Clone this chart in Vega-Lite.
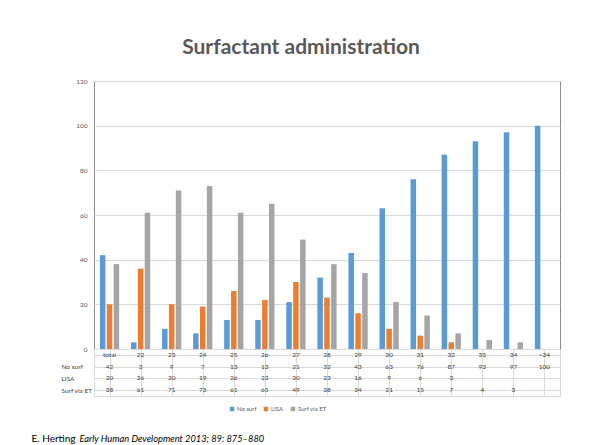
{
  "$schema": "https://vega.github.io/schema/vega-lite/v6.json",
  "padding": {"left": 30, "top": 36, "right": 5, "bottom": 2},
  "background": "white",
  "bounds": "flush",
  "spacing": 0,
  "config": {"font": "Lato", "concat": {"spacing": 0}},
  "datasets": {
    "d": [
      {"cat": "total", "series": "No surf", "value": 42}, {"cat": "total", "series": "LISA", "value": 20}, {"cat": "total", "series": "Surf via ET", "value": 38},
      {"cat": "22", "series": "No surf", "value": 3}, {"cat": "22", "series": "LISA", "value": 36}, {"cat": "22", "series": "Surf via ET", "value": 61},
      {"cat": "23", "series": "No surf", "value": 9}, {"cat": "23", "series": "LISA", "value": 20}, {"cat": "23", "series": "Surf via ET", "value": 71},
      {"cat": "24", "series": "No surf", "value": 7}, {"cat": "24", "series": "LISA", "value": 19}, {"cat": "24", "series": "Surf via ET", "value": 73},
      {"cat": "25", "series": "No surf", "value": 13}, {"cat": "25", "series": "LISA", "value": 26}, {"cat": "25", "series": "Surf via ET", "value": 61},
      {"cat": "26", "series": "No surf", "value": 13}, {"cat": "26", "series": "LISA", "value": 22}, {"cat": "26", "series": "Surf via ET", "value": 65},
      {"cat": "27", "series": "No surf", "value": 21}, {"cat": "27", "series": "LISA", "value": 30}, {"cat": "27", "series": "Surf via ET", "value": 49},
      {"cat": "28", "series": "No surf", "value": 32}, {"cat": "28", "series": "LISA", "value": 23}, {"cat": "28", "series": "Surf via ET", "value": 38},
      {"cat": "29", "series": "No surf", "value": 43}, {"cat": "29", "series": "LISA", "value": 16}, {"cat": "29", "series": "Surf via ET", "value": 34},
      {"cat": "30", "series": "No surf", "value": 63}, {"cat": "30", "series": "LISA", "value": 9}, {"cat": "30", "series": "Surf via ET", "value": 21},
      {"cat": "31", "series": "No surf", "value": 76}, {"cat": "31", "series": "LISA", "value": 6}, {"cat": "31", "series": "Surf via ET", "value": 15},
      {"cat": "32", "series": "No surf", "value": 87}, {"cat": "32", "series": "LISA", "value": 3}, {"cat": "32", "series": "Surf via ET", "value": 7},
      {"cat": "33", "series": "No surf", "value": 93}, {"cat": "33", "series": "LISA", "value": null}, {"cat": "33", "series": "Surf via ET", "value": 4},
      {"cat": "34", "series": "No surf", "value": 97}, {"cat": "34", "series": "LISA", "value": null}, {"cat": "34", "series": "Surf via ET", "value": 3},
      {"cat": ">34", "series": "No surf", "value": 100}, {"cat": ">34", "series": "LISA", "value": null}, {"cat": ">34", "series": "Surf via ET", "value": null}
    ]
  },
  "vconcat": [
    {
      "width": 466,
      "height": 268,
      "view": {"stroke": "#8c8c8c"},
      "title": {"text": "Surfactant administration", "fontSize": 21, "fontWeight": "bold", "color": "#595959", "offset": 20, "dx": -26, "anchor": "middle"},
      "data": {"name": "d"},
      "mark": {"type": "bar"},
      "encoding": {
        "x": {"field": "cat", "type": "nominal", "sort": ["total","22","23","24","25","26","27","28","29","30","31","32","33","34",">34"], "scale": {"paddingInner": 0.38, "paddingOuter": 0.19}, "axis": null},
        "xOffset": {"field": "series", "type": "nominal", "sort": ["No surf","LISA","Surf via ET"], "scale": {"paddingInner": 0.2}},
        "y": {"field": "value", "type": "quantitative", "scale": {"domain": [0, 120]}, "axis": {"values": [0,20,40,60,80,100,120], "grid": true, "gridColor": "#d9d9d9", "domain": false, "ticks": false, "labelFontSize": 6.5, "labelColor": "#595959", "labelPadding": 7, "title": null}},
        "color": {"field": "series", "type": "nominal", "scale": {"domain": ["No surf","LISA","Surf via ET"], "range": ["#5b9bd5","#ed7d31","#a5a5a5"]}, "legend": {"orient": "none", "legendX": 135, "legendY": 325, "direction": "horizontal", "title": null, "symbolType": "square", "symbolSize": 20, "symbolStrokeWidth": 0, "labelFontSize": 6, "labelColor": "#595959", "columnPadding": 6, "labelOffset": 2}}
      }
    },
    {
      "width": 466,
      "height": 47,
      "view": {"stroke": "#d9d9d9"},
      "data": {"name": "d"},
      "encoding": {
        "x": {"field": "cat", "type": "nominal", "sort": ["total","22","23","24","25","26","27","28","29","30","31","32","33","34",">34"], "scale": {"paddingInner": 0, "paddingOuter": 0}, "axis": {"grid": true, "bandPosition": 0, "gridColor": "#d9d9d9", "labels": false, "ticks": false, "domain": false, "title": "Early Human Development 2013; 89: 875–880", "titleFontStyle": "italic", "titleFontWeight": "normal", "titleFontSize": 9.3, "titleX": -15, "titleY": 45, "titleAlign": "left", "titleBaseline": "alphabetic", "titleColor": "#000000"}}
      },
      "layer": [
        {
          "transform": [{"filter": "datum.value != null"}],
          "mark": {"type": "text", "fontSize": 6.5, "color": "#404040"},
          "encoding": {
            "y": {"field": "series", "type": "nominal", "scale": {"domain": ["hdr","No surf","LISA","Surf via ET"], "paddingInner": 0, "paddingOuter": 0}, "axis": {"labelExpr": "datum.value == 'hdr' ? '' : datum.value", "labelAlign": "left", "labelPadding": 33, "ticks": false, "domain": false, "grid": true, "bandPosition": 0, "gridColor": "#d9d9d9", "labelFontSize": 6.5, "labelColor": "#404040", "title": "E. Herting", "titleAngle": 0, "titleX": -63, "titleY": 92, "titleAlign": "left", "titleBaseline": "alphabetic", "titleFontSize": 10, "titleFontWeight": "normal", "titleColor": "#000000"}},
            "text": {"field": "value", "type": "quantitative"}
          }
        },
        {
          "transform": [{"filter": "datum.series == 'No surf'"}],
          "mark": {"type": "text", "fontSize": 6.5, "color": "#404040"},
          "encoding": {
            "y": {"datum": "hdr", "type": "nominal"},
            "text": {"field": "cat", "type": "nominal"}
          }
        }
      ]
    }
  ]
}
